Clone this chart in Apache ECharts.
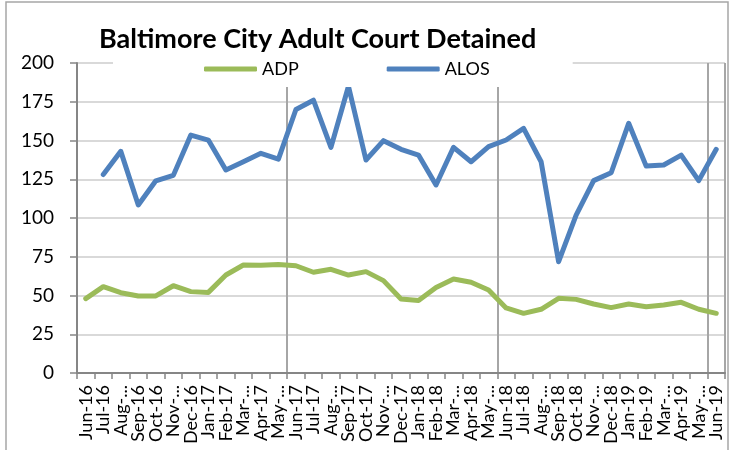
<!DOCTYPE html>
<html><head><meta charset="utf-8">
<script src="https://cdn.jsdelivr.net/npm/echarts@6/dist/echarts.min.js"></script>
<style>html,body{margin:0;padding:0;background:#fff}#c{width:737px;height:450px}</style>
</head><body><div id="c"></div>
<script>
const categories = ["Jun-16","Jul-16","Aug-16","Sep-16","Oct-16","Nov-16","Dec-16","Jan-17","Feb-17","Mar-17","Apr-17","May-17","Jun-17","Jul-17","Aug-17","Sep-17","Oct-17","Nov-17","Dec-17","Jan-18","Feb-18","Mar-18","Apr-18","May-18","Jun-18","Jul-18","Aug-18","Sep-18","Oct-18","Nov-18","Dec-18","Jan-19","Feb-19","Mar-19","Apr-19","May-19","Jun-19"];
const tickLabels = ["Jun-16","Jul-16","Aug-...","Sep-16","Oct-16","Nov-...","Dec-16","Jan-17","Feb-17","Mar-...","Apr-17","May-...","Jun-17","Jul-17","Aug-...","Sep-17","Oct-17","Nov-...","Dec-17","Jan-18","Feb-18","Mar-...","Apr-18","May-...","Jun-18","Jul-18","Aug-...","Sep-18","Oct-18","Nov-...","Dec-18","Jan-19","Feb-19","Mar-...","Apr-19","May-...","Jun-19"];
const adp = [48,55.7,51.8,49.7,49.7,56.3,52.5,52,63.2,69.7,69.5,70,69.2,65,66.9,63.2,65.4,59.6,47.7,46.7,55.1,60.6,58.5,53.5,42,38.5,41.1,48.2,47.5,44.5,42.2,44.5,42.8,43.9,45.6,41.1,38.5];
const alos = [null,128,143,108.4,124,127.5,153.5,150.3,131,136.3,141.7,138,170,176,145.6,185,137.4,149.9,144.3,140.6,121.3,145.6,136.3,146,150.3,157.8,136.3,71.8,101.9,124.1,129.2,161.1,133.5,134.2,140.6,124.1,144.3];
const yTicks = {min:0,max:200,interval:25};

const font = "Lato";
const chart = echarts.init(document.getElementById('c'));
chart.setOption({
  animation:false,
  backgroundColor:'#fff',
  title:{text:'Baltimore City Adult Court Detained',left:94,top:21,textStyle:{fontFamily:font,fontWeight:'bold',fontSize:27,color:'#000'}},
  graphic:[{type:'rect',shape:{x:6,y:2,width:722,height:460},style:{fill:'none',stroke:'#a6a6a6',lineWidth:1.5},silent:true}],
  legend:{left:113,top:54,padding:[6,83,9,91],itemGap:88,itemWidth:53,itemHeight:5,backgroundColor:'#fff',
    textStyle:{fontFamily:font,fontSize:18,color:'#000'},
    data:[{name:'ADP',icon:'roundRect'},{name:'ALOS',icon:'roundRect'}]},
  grid:{left:77,right:12,top:63,bottom:77,containLabel:false},
  xAxis:{type:'category',data:categories,boundaryGap:true,
    axisLine:{lineStyle:{color:'#868686',width:2}},
    axisTick:{show:true,interval:0,length:6,alignWithLabel:false,lineStyle:{color:'#868686',width:1.5}},
    splitLine:{show:true,interval:function(i){return i>0 && i%12===0;},lineStyle:{color:'#a6a6a6',width:2}},
    axisLabel:{interval:0,rotate:90,margin:12,fontFamily:font,fontSize:18,color:'#000',
      formatter:function(v,i){return tickLabels[i];}}},
  yAxis:{type:'value',min:yTicks.min,max:yTicks.max,interval:yTicks.interval,
    axisLine:{show:true,lineStyle:{color:'#868686',width:2}},
    axisTick:{show:true,length:7,lineStyle:{color:'#868686',width:1.5}},
    splitLine:{show:true,lineStyle:{color:'#d9d9d9',width:2}},
    axisLabel:{margin:23,fontFamily:font,fontSize:19,color:'#000'}},
  series:[
    {name:'ADP',type:'line',data:adp,showSymbol:false,symbol:'none',itemStyle:{color:'#9bbb59'},lineStyle:{color:'#9bbb59',width:5,cap:'round',join:'round'}},
    {name:'ALOS',type:'line',data:alos,showSymbol:false,symbol:'none',itemStyle:{color:'#4f81bd'},lineStyle:{color:'#4f81bd',width:5,cap:'round',join:'round'}}
  ]
});
</script></body></html>
